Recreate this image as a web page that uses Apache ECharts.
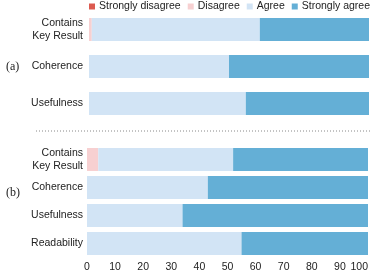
<!DOCTYPE html>
<html>
<head>
<meta charset="utf-8">
<script src="https://cdn.jsdelivr.net/npm/echarts@6/dist/echarts.min.js"></script>
<style>html,body{margin:0;padding:0;background:#fff}#c{width:374px;height:272px}</style>
</head>
<body>
<div id="c"></div>
<script>
var catsA = ['Contains\nKey Result', 'Coherence', 'Usefulness'];
var catsB = ['Contains\nKey Result', 'Coherence', 'Usefulness', 'Readability'];
var seriesNames = ['Strongly disagree', 'Disagree', 'Agree', 'Strongly agree'];
var colors = ['#dc5a50', '#f7d0d1', '#d2e4f5', '#64afd6'];
// panel (a)
var aStrongDis = [0, 0, 0];
var aDis = [1, 0, 0];
var aAgree = [60, 50, 56];
var aStrongAgree = [39, 50, 44];
// panel (b)
var bStrongDis = [0, 0, 0, 0];
var bDis = [4, 0, 0, 0];
var bAgree = [48, 43, 34, 55];
var bStrongAgree = [48, 57, 66, 45];
var xTicks = [0, 10, 20, 30, 40, 50, 60, 70, 80, 90, 100];

var font = 'Liberation Sans';
var fs = 10.5;
var dataA = [aStrongDis, aDis, aAgree, aStrongAgree];
var dataB = [bStrongDis, bDis, bAgree, bStrongAgree];
var series = [];
seriesNames.forEach(function (n, i) {
  series.push({name: n, type: 'bar', stack: 'a', xAxisIndex: 0, yAxisIndex: 0, barWidth: 23,
    itemStyle: {color: colors[i]}, data: dataA[i]});
  series.push({name: n, type: 'bar', stack: 'b', xAxisIndex: 1, yAxisIndex: 1, barWidth: 23,
    itemStyle: {color: colors[i]}, data: dataB[i]});
});

var chart = echarts.init(document.getElementById('c'), null, {renderer: 'canvas'});
chart.setOption({
  animation: false,
  legend: {
    data: seriesNames, left: 89, top: 1, width: 290, itemWidth: 6, itemHeight: 6, itemGap: 7,
    padding: 0, icon: 'rect',
    textStyle: {fontFamily: font, fontSize: fs, color: '#222', padding: [0, 0, 0, -1]}
  },
  grid: [
    {left: 89, right: 5, top: 11, height: 111, outerBoundsMode: 'none', containLabel: false},
    {left: 87, right: 6, top: 145.5, height: 112, outerBoundsMode: 'none', containLabel: false}
  ],
  xAxis: [
    {gridIndex: 0, type: 'value', min: 0, max: 100, interval: 10, show: false},
    {gridIndex: 1, type: 'value', min: 0, max: 100, interval: 10,
      axisLine: {show: false}, axisTick: {show: false}, splitLine: {show: false},
      axisLabel: {fontFamily: font, fontSize: fs, color: '#222', margin: 4, alignMaxLabel: 'right',
        formatter: function (v) { return xTicks.indexOf(v) >= 0 ? String(v) : ''; }}}
  ],
  yAxis: [
    {gridIndex: 0, type: 'category', data: catsA, inverse: true,
      axisLine: {show: false}, axisTick: {show: false},
      axisLabel: {fontFamily: font, fontSize: fs, color: '#222', margin: 6, lineHeight: 12.5, align: 'right'}},
    {gridIndex: 1, type: 'category', data: catsB, inverse: true,
      axisLine: {show: false}, axisTick: {show: false},
      axisLabel: {fontFamily: font, fontSize: fs, color: '#222', margin: 4, lineHeight: 12.5, align: 'right'}}
  ],
  graphic: [
    {type: 'text', left: 6, top: 61, style: {text: '(a)', font: '12px "Liberation Serif"', fill: '#222'}},
    {type: 'text', left: 6, top: 187, style: {text: '(b)', font: '12px "Liberation Serif"', fill: '#222'}},
    {type: 'line', shape: {x1: 36, y1: 131, x2: 370, y2: 131},
      style: {stroke: '#888', lineWidth: 1, lineDash: [1, 2]}}
  ],
  series: series
});
</script>
</body>
</html>
